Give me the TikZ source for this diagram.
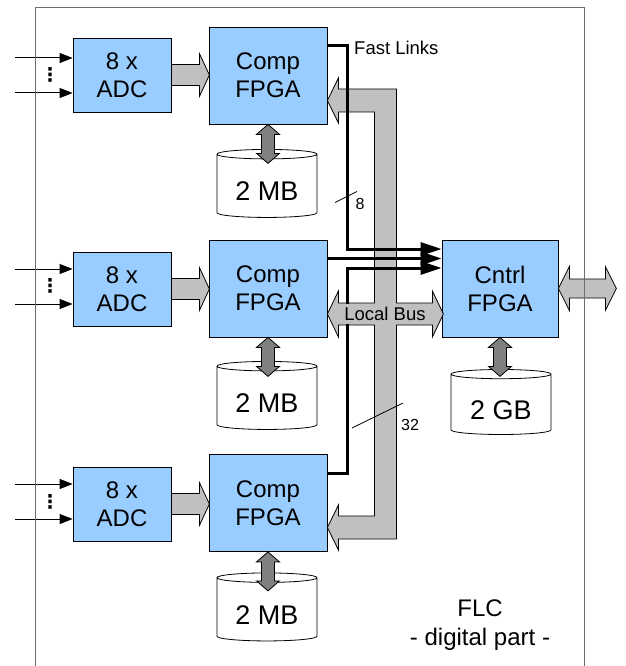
\documentclass[tikz,border=0pt]{standalone}
\usepackage{fontspec}
\setmainfont{Liberation Sans}
\newfontfamily\dotsfont{DejaVu Sans}
\usetikzlibrary{arrows.meta,positioning,shapes.geometric,calc}
\definecolor{FLCblue}{RGB}{153,204,255}
\definecolor{FLCbus}{RGB}{192,192,192}
\definecolor{FLCmem}{RGB}{128,128,128}
\definecolor{FLCframe}{RGB}{110,110,110}

\begin{document}
\begin{tikzpicture}[x=1pt, y=-1pt,
    unit/.style={draw, fill=FLCblue, line width=0.8pt, align=center, inner sep=0pt, font=\fontsize{24}{28}\selectfont},
    adcbox/.style={unit, minimum width=98pt, minimum height=74pt},
    fpgabox/.style={unit, minimum width=118pt, minimum height=97pt},
    memdrum/.style={cylinder, shape border rotate=90, aspect=0.15, draw, fill=white, line width=0.8pt, minimum width=100pt, minimum height=68pt, inner sep=0pt, text height=29.5pt, text depth=0pt, font=\fontsize{27}{30}\selectfont},
    busarrow/.style={draw, fill=FLCbus, line width=0.8pt, line join=miter},
    memarrow/.style={draw, fill=FLCmem, line width=0.8pt},
    inarrow/.style={{Triangle[length=13pt,width=10pt]}-, line width=1pt},
    fastlink/.style={line width=3pt, -{Triangle[length=21pt,width=13pt]}},
    small/.style={font=\fontsize{18.5}{20}\selectfont, inner sep=1pt},
    tiny/.style={font=\fontsize{16}{18}\selectfont, inner sep=0pt},
    chdots/.style={font=\dotsfont\bfseries\fontsize{19}{19}\selectfont, inner sep=0pt},
  ]
    \useasboundingbox (0,0) rectangle (625,666);

    % ADCs and compression FPGAs
    \node[adcbox] (adc1) at (122,75) {8 x\\ADC};
    \node[adcbox] (adc2) at (122,289) {8 x\\ADC};
    \node[adcbox] (adc3) at (122,504) {8 x\\ADC};
    \node[fpgabox] (fpga1) at (268,75.5) {Comp\\FPGA};
    \node[fpgabox] (fpga2) at (268,288.5) {Comp\\FPGA};
    \node[fpgabox] (fpga3) at (268,503) {Comp\\FPGA};
    \node[fpgabox, minimum width=116pt] (cntrl) at (500,288.5) {Cntrl\\FPGA};

    % memories
    \node[memdrum] (mem1) at (267,186) {2 MB};
    \node[memdrum] (mem2) at (267,398) {2 MB};
    \node[memdrum] (mem3) at (267,609.5) {2 MB};
    \node[memdrum, minimum height=65pt] (mem4) at (501,404.5) {2 GB};

    % analog inputs
    \draw[inarrow] ($(adc1.west)+(0,-17)$) -- ++(-58,0);
    \draw[inarrow] ($(adc1.west)+(0,18)$) -- ++(-58,0);
    \draw[inarrow] ($(adc2.west)+(0,-20)$) -- ++(-58,0);
    \draw[inarrow] ($(adc2.west)+(0,15)$) -- ++(-58,0);
    \draw[inarrow] ($(adc3.west)+(0,-20)$) -- ++(-58,0);
    \draw[inarrow] ($(adc3.west)+(0,15)$) -- ++(-58,0);
    \node[chdots] (dots1) at (50,75) {⋮};
    \node[chdots] (dots2) at (50,286) {⋮};
    \node[chdots] (dots3) at (50,502) {⋮};

    % ADC -> FPGA
    \draw[busarrow] ($(adc1.east)+(0,-10.5)$) -- ++(28,0) -- ++(0,-11) -- ++(10,21.5) -- ++(-10,21.5) -- ++(0,-11) -- ++(-28,0) -- cycle;
    \draw[busarrow] ($(adc2.east)+(0,-10.5)$) -- ++(28,0) -- ++(0,-11) -- ++(10,21.5) -- ++(-10,21.5) -- ++(0,-11) -- ++(-28,0) -- cycle;
    \draw[busarrow] ($(adc3.east)+(0,-10.5)$) -- ++(28,0) -- ++(0,-11) -- ++(10,21.5) -- ++(-10,21.5) -- ++(0,-11) -- ++(-28,0) -- cycle;

    % FPGA <-> memory
    \draw[memarrow] (fpga1.south) -- ++(11.5,10) -- ++(-5,0) -- ++(0,19) -- ++(5,0) -- ++(-11.5,10) -- ++(-11.5,-10) -- ++(5,0) -- ++(0,-19) -- ++(-5,0) -- cycle;
    \draw[memarrow] (fpga2.south) -- ++(11.5,10) -- ++(-5,0) -- ++(0,19) -- ++(5,0) -- ++(-11.5,10) -- ++(-11.5,-10) -- ++(5,0) -- ++(0,-19) -- ++(-5,0) -- cycle;
    \draw[memarrow] (fpga3.south) -- ++(11.5,10) -- ++(-5,0) -- ++(0,19) -- ++(5,0) -- ++(-11.5,10) -- ++(-11.5,-10) -- ++(5,0) -- ++(0,-19) -- ++(-5,0) -- cycle;
    \draw[memarrow] (cntrl.south) -- ++(11.5,10) -- ++(-5,0) -- ++(0,19) -- ++(5,0) -- ++(-11.5,10) -- ++(-11.5,-10) -- ++(5,0) -- ++(0,-19) -- ++(-5,0) -- cycle;

    % local bus
    \draw[busarrow] ($(fpga1.east)+(0,25)$) -- ++(11,-22.5) -- ++(0,11) -- ++(58,0) -- ++(0,214)
      -- ++(36,0) -- ++(0,-12) -- ++(11,23) -- ++(-11,23) -- ++(0,-12) -- ++(-36,0)
      -- ++(0,214) -- ++(-58,0) -- ++(0,11) -- ++(-11,-22.5) -- ++(11,-22.5) -- ++(0,11)
      -- ++(36,0) -- ++(0,-191) -- ++(-36,0) -- ++(0,12) -- ++(-11,-23) -- ++(11,-23)
      -- ++(0,12) -- ++(36,0) -- ++(0,-191) -- ++(-36,0) -- ++(0,11) -- cycle;

    % fast links
    \draw[fastlink] ($(fpga1.east)+(0,-30)$) -- ++(20,0) |- ($(cntrl.west)+(0,-39.5)$);
    \draw[fastlink] ($(fpga2.east)+(0,-30)$) -- ($(cntrl.west)+(0,-30)$);
    \draw[fastlink] ($(fpga3.east)+(0,-30)$) -- ++(20,0) |- ($(cntrl.west)+(0,-20.5)$);
    \node[small, anchor=west] (fastlbl) at (353,48) {Fast Links};
    \node[small, fill=FLCbus, minimum height=20pt, inner ysep=0pt] (buslbl) at (385,314) {Local Bus};

    % bus widths
    \coordinate (cut8) at (346,197);
    \draw[line width=0.8pt] (cut8) ++(-11,5.5) -- ++(22,-11);
    \node[tiny] (n8) at (360,204) {8};
    \coordinate (cut32) at (377.5,415.5);
    \draw[line width=0.8pt] (cut32) ++(-25.5,12.5) -- ++(51,-25);
    \node[tiny] (n32) at (410,425) {32};

    % external link
    \draw[busarrow] (cntrl.east) -- ++(11,-22) -- ++(0,12.5) -- ++(36,0) -- ++(0,-12.5) -- ++(11,22) -- ++(-11,22) -- ++(0,-12.5) -- ++(-36,0) -- ++(0,12.5) -- cycle;

    % board outline
    \draw[FLCframe, line width=1pt] (35,666) -- (35,7.5) -- (584,7.5) -- (584,666);
    \node[font=\fontsize{24}{29}\selectfont, align=center, inner sep=0pt] (flc) at (480,625) {FLC\\- digital part -};
\end{tikzpicture}
\end{document}
